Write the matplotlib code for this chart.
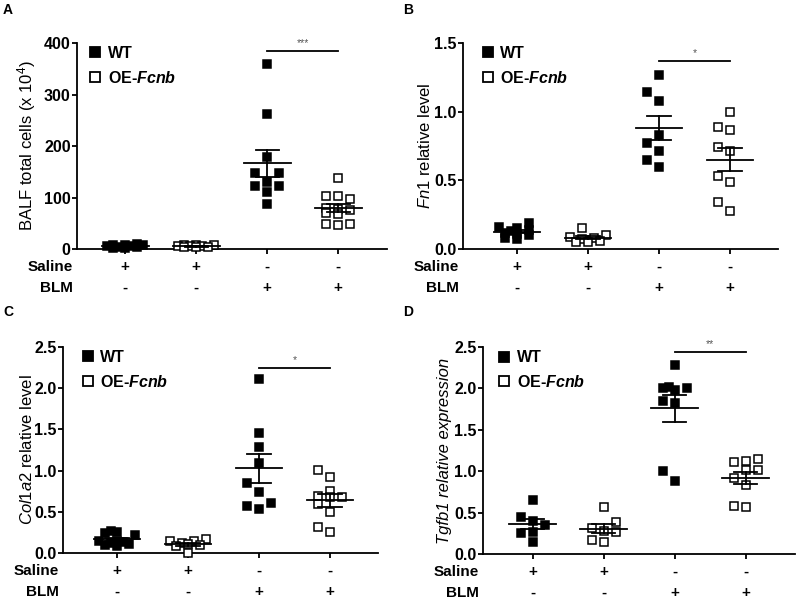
import numpy as np
import matplotlib
matplotlib.use("Agg")
import matplotlib.pyplot as plt
from matplotlib.lines import Line2D

plt.rcParams['font.family'] = 'Liberation Sans'
plt.rcParams['mathtext.fontset'] = 'custom'
plt.rcParams['mathtext.rm'] = 'Liberation Sans'
plt.rcParams['mathtext.it'] = 'Liberation Sans:italic'
plt.rcParams['mathtext.bf'] = 'Liberation Sans:bold'
plt.rcParams['mathtext.bfit'] = 'Liberation Sans:bold:italic'

# ---- data ----
saline_row = ['+', '+', '-', '-']
blm_row = ['-', '-', '+', '+']

# A: BALF total cells
a_wt_saline = [9, 8, 8, 7, 6, 5, 4, 3, 2, 1]
a_oe_saline = [8, 7, 7, 6, 5, 5, 4, 3, 3]
a_wt_blm = [360, 262, 178, 148, 148, 130, 122, 122, 110, 87]
a_oe_blm = [137, 102, 97, 102, 80, 78, 76, 70, 68, 49, 46, 48]

# B: Fn1
b_wt_saline = [0.19, 0.16, 0.15, 0.14, 0.13, 0.12, 0.11, 0.10, 0.08, 0.07]
b_oe_saline = [0.15, 0.10, 0.09, 0.08, 0.07, 0.06, 0.05, 0.05]
b_wt_blm = [1.27, 1.14, 1.08, 0.83, 0.77, 0.71, 0.65, 0.60]
b_oe_blm = [1.00, 0.89, 0.87, 0.74, 0.71, 0.53, 0.49, 0.34, 0.28]

# C: Col1a2
c_wt_saline = [0.27, 0.26, 0.24, 0.22, 0.15, 0.14, 0.13, 0.12, 0.11, 0.10, 0.08]
c_oe_saline = [0.17, 0.15, 0.14, 0.12, 0.11, 0.10, 0.08, 0.00]
c_wt_blm = [2.11, 1.46, 1.29, 1.09, 0.85, 0.74, 0.61, 0.57, 0.54]
c_oe_blm = [1.01, 0.92, 0.75, 0.69, 0.685, 0.68, 0.60, 0.50, 0.31, 0.25]

# D: Tgfb1
d_wt_saline = [0.65, 0.45, 0.40, 0.35, 0.27, 0.25, 0.14]
d_oe_saline = [0.57, 0.39, 0.32, 0.28, 0.26, 0.17, 0.14]
d_wt_blm = [2.28, 2.01, 1.98, 2.00, 2.02, 1.82, 1.85, 1.00, 0.88]
d_oe_blm = [1.145, 1.125, 1.113, 1.013, 1.013, 0.912, 0.828, 0.583, 0.571]

panels = [
    dict(letter='A', groups=[a_wt_saline, a_oe_saline, a_wt_blm, a_oe_blm],
         ylim=400, yticks=[0, 100, 200, 300, 400], fmt='{:.0f}',
         ylabel=r'BALF total cells (x 10$^4$)', sig=384, stars='***'),
    dict(letter='B', groups=[b_wt_saline, b_oe_saline, b_wt_blm, b_oe_blm],
         ylim=1.5, yticks=[0, 0.5, 1.0, 1.5], fmt='{:.1f}',
         ylabel=r'$\mathit{Fn1}$ relative level', sig=1.37, stars='*'),
    dict(letter='C', groups=[c_wt_saline, c_oe_saline, c_wt_blm, c_oe_blm],
         ylim=2.5, yticks=[0, 0.5, 1.0, 1.5, 2.0, 2.5], fmt='{:.1f}',
         ylabel=r'$\mathit{Col1a2}$ relative level', sig=2.245, stars='*'),
    dict(letter='D', groups=[d_wt_saline, d_oe_saline, d_wt_blm, d_oe_blm],
         ylim=2.5, yticks=[0, 0.5, 1.0, 1.5, 2.0, 2.5], fmt='{:.1f}',
         ylabel='Tgfb1 relative expression', sig=2.44, stars='**'),
]

# axes boxes in pixels: left, right, top, bottom ; left xlim
boxes = [(77, 387, 43, 249, -0.68), (463, 778, 43, 249, -0.76),
         (63, 378, 347, 553, -0.76), (483, 795, 347, 554, -0.70)]
letter_pos = [(3, 3), (403, 3), (3, 305), (403, 305)]
ylab_x = [-0.125, -0.095, -0.089, -0.098]
legend_x = [0.035, 0.055, 0.055, 0.045]

W, H = 798, 601
fig = plt.figure(figsize=(W / 100, H / 100), dpi=100)


def swarm(ax, x0, vals, step=12.0, hgap=10.0, maxw=22.0):
    # prism-like horizontal spreading, done in pixel space
    pts = ax.transData.transform(np.column_stack([np.full(len(vals), x0), vals]))
    ys = pts[:, 1]
    px_per_unit = ax.transData.transform((1, 0))[0] - ax.transData.transform((0, 0))[0]
    cands = [0.0]
    k = 1
    while k * step / 2 <= maxw:
        cands += [-k * step / 2, k * step / 2]
        k += 1
    placed = []
    offs = np.zeros(len(vals))
    for i in np.argsort(ys):
        best, best_d = 0.0, -1
        for c in cands:
            d = min([max(abs(c - px) / step, abs(ys[i] - py) / hgap) for px, py in placed], default=9)
            if d >= 1:
                best = c
                break
            if d > best_d:
                best, best_d = c, d
        placed.append((best, ys[i]))
        offs[i] = best / px_per_unit
    return x0 + offs


for p, (l, r, t, b, x_left), (lx, ly), ylx, lgx in zip(panels, boxes, letter_pos, ylab_x, legend_x):
    ax = fig.add_axes([l / W, 1 - b / H, (r - l) / W, (b - t) / H])
    step_px = 71.0
    x_right = x_left + (r - l) / step_px
    ax.set_xlim(x_left, x_right)
    ax.set_ylim(0, p['ylim'])
    for s in ['top', 'right']:
        ax.spines[s].set_visible(False)
    for s in ['left', 'bottom']:
        ax.spines[s].set_linewidth(1.3)
    ax.set_yticks(p['yticks'])
    ax.set_yticklabels([p['fmt'].format(v) for v in p['yticks']], fontweight='bold', fontsize=11.5)
    ax.set_xticks(range(4))
    ax.set_xticklabels([])
    ax.tick_params(axis='both', direction='out', length=3.5, width=1.3, pad=1)

    ylab_style = 'italic' if p['letter'] == 'D' else 'normal'
    ax.set_ylabel(p['ylabel'], fontsize=12, fontstyle=ylab_style)
    ax.yaxis.set_label_coords(ylx, 0.5)

    for gi, vals in enumerate(p['groups']):
        filled = gi % 2 == 0
        xs = swarm(ax, gi, vals)
        ax.plot(xs, vals, ls='none', marker='s', ms=5.6,
                mfc='black' if filled else 'white', mec='black', mew=1.1,
                clip_on=False, zorder=3)
        v = np.array(vals, dtype=float)
        m = v.mean()
        se = v.std(ddof=1) / np.sqrt(len(v))
        ax.plot([gi - 0.33, gi + 0.33], [m, m], color='black', lw=1.3, zorder=4)
        ax.plot([gi - 0.165, gi + 0.165], [m + se, m + se], color='black', lw=1.3, zorder=4)
        ax.plot([gi - 0.165, gi + 0.165], [m - se, m - se], color='black', lw=1.3, zorder=4)
        ax.plot([gi, gi], [m - se, m + se], color='black', lw=1.3, zorder=4)

    # significance bar
    ax.plot([2, 3], [p['sig'], p['sig']], color='black', lw=1.3, clip_on=False)
    ax.annotate(p['stars'], xy=(2.5, p['sig']), xytext=(0, 2), textcoords='offset points',
                ha='center', va='bottom', fontsize=7.5, color='#555555')

    # treatment rows
    tr = ax.get_xaxis_transform()
    h = b - t
    for lab, row, dy in [('Saline', saline_row, 18), ('BLM', blm_row, 39)]:
        ax.text(-0.012, -dy / h, lab, transform=ax.transAxes, ha='right', va='center',
                fontsize=11, fontweight='bold')
        for gi, sym in enumerate(row):
            ax.text(gi, -dy / h, sym, transform=tr, ha='center', va='center',
                    fontsize=11, fontweight='bold')

    handles = [Line2D([], [], ls='none', marker='s', ms=7, mfc='black', mec='black', mew=1.3),
               Line2D([], [], ls='none', marker='s', ms=7, mfc='white', mec='black', mew=1.3)]
    ax.legend(handles, ['WT', r'OE-$\mathbfit{Fcnb}$'], loc='upper left',
              bbox_to_anchor=(lgx, 0.985), frameon=False, handletextpad=0.35,
              labelspacing=0.55, handlelength=0.9, borderaxespad=0, borderpad=0,
              prop={'weight': 'bold', 'size': 11.5})

    fig.text(lx / W, 1 - ly / H, p['letter'], ha='left', va='top', fontsize=10, fontweight='bold')

fig.savefig('out.png', dpi=100)
